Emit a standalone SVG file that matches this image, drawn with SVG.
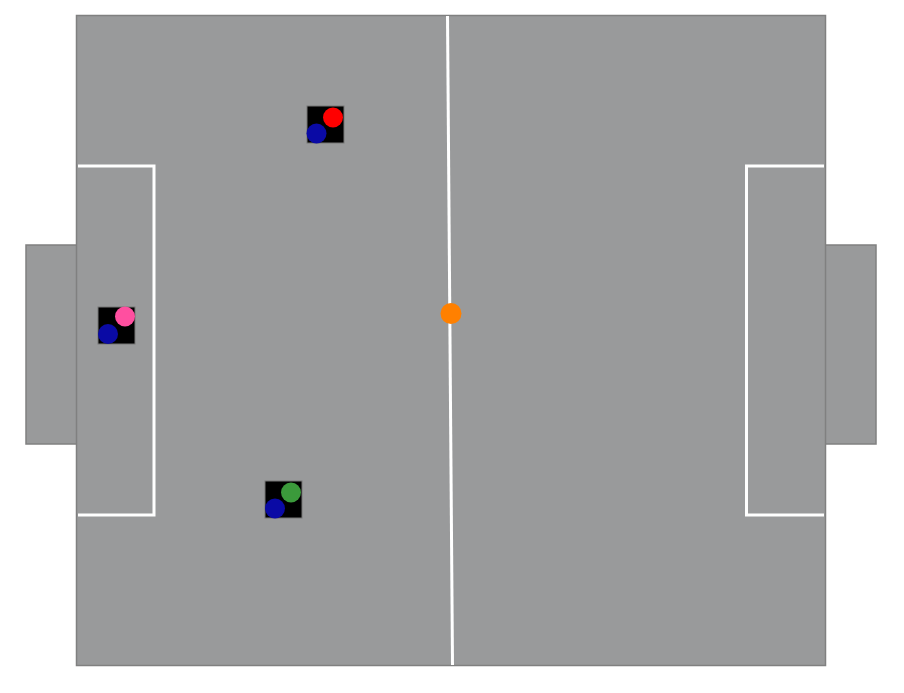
<svg xmlns="http://www.w3.org/2000/svg" width="904" height="693" viewBox="0 0 904 693">
<style>
.turf{fill:#999a9b;stroke:#808080;stroke-width:1.5}
.line{fill:none;stroke:#ffffff;stroke-width:3}
.robot{fill:#000000;stroke:#777777;stroke-width:1}
.blue{fill:#0a0aa5}
</style>
<rect width="904" height="693" fill="#ffffff"/>
<g id="field">
<rect id="goal-left" class="turf" x="26" y="245" width="51" height="199"/>
<rect id="goal-right" class="turf" x="825" y="245" width="51" height="199"/>
<rect id="pitch" class="turf" x="76.5" y="15.5" width="749" height="650"/>
<line id="center-line" class="line" x1="447.5" y1="16" x2="452.5" y2="665"/>
<polyline id="box-left" class="line" points="78,166 154,166 154,515 78,515"/>
<polyline id="box-right" class="line" points="824,166 746.5,166 746.5,515 824,515"/>
</g>
<g id="robot-red">
<rect class="robot" x="307" y="106" width="37" height="37"/>
<circle cx="333" cy="117.5" r="10" fill="#ff0000"/>
<circle class="blue" cx="316.5" cy="133.5" r="10"/>
</g>
<g id="robot-pink">
<rect class="robot" x="98" y="307" width="37" height="37"/>
<circle cx="125" cy="316.5" r="10" fill="#ff4fa0"/>
<circle class="blue" cx="108" cy="334" r="10"/>
</g>
<g id="robot-green">
<rect class="robot" x="265" y="481" width="37" height="37"/>
<circle cx="291" cy="492.5" r="10" fill="#3b9a3b"/>
<circle class="blue" cx="275" cy="508.5" r="10"/>
</g>
<g id="ball">
<circle cx="451" cy="313.5" r="10.5" fill="#ff8000"/>
</g>
</svg>
